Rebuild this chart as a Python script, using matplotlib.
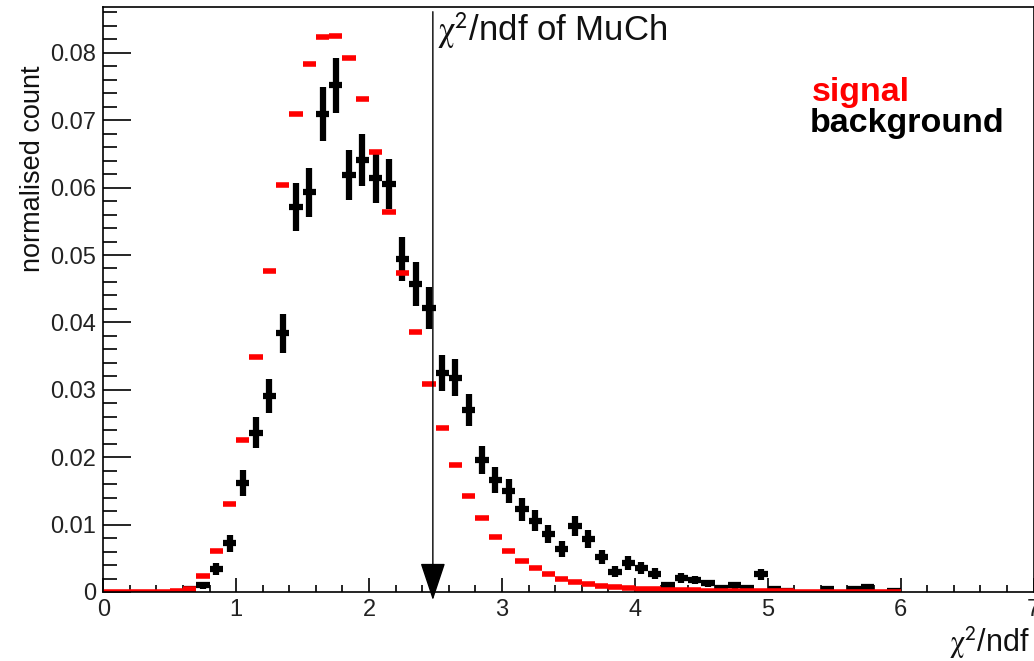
import matplotlib
matplotlib.use("Agg")
import matplotlib.pyplot as plt
import numpy as np

plt.rcParams['font.family'] = ['Liberation Sans', 'DejaVu Sans']
plt.rcParams['mathtext.fontset'] = 'stix'

# histogram binning: 60 bins of width 0.1 between 0 and 6
bin_width = 0.1
bin_centres = np.arange(60) * bin_width + bin_width / 2

signal = [
    0.00002, 0.00002, 0.00003, 0.00003, 0.00005, 0.0001, 0.0005, 0.0024, 0.0061, 0.0131,
    0.0226, 0.0349, 0.0476, 0.0604, 0.0709, 0.0783, 0.0823, 0.0825, 0.0792, 0.0731,
    0.0653, 0.0564, 0.0473, 0.0386, 0.0309, 0.0244, 0.0188, 0.0143, 0.0110, 0.0082,
    0.0061, 0.0046, 0.0036, 0.0026, 0.0020, 0.0015, 0.0012, 0.0009, 0.0007, 0.0006,
    0.0005, 0.0004, 0.0003, 0.0003, 0.00025, 0.0002, 0.0002, 0.00015, 0.00012, 0.0001,
    0.0001, 0.00008, 0.00007, 0.00006, 0.00005, 0.00005, 0.00004, 0.00004, 0.00003, 0.00003,
]

background = [
    0, 0, 0, 0, 0, 0, 0.0004, 0.0010, 0.0034, 0.0072,
    0.0162, 0.0236, 0.0291, 0.0384, 0.0571, 0.0593, 0.0709, 0.0752, 0.0619, 0.0641,
    0.0614, 0.0605, 0.0494, 0.0457, 0.0421, 0.0325, 0.0318, 0.0270, 0.0196, 0.0166,
    0.0150, 0.0123, 0.0106, 0.0086, 0.0064, 0.0098, 0.0079, 0.0052, 0.0030, 0.0043,
    0.0036, 0.0027, 0.0010, 0.0021, 0.0018, 0.0013, 0.0006, 0.0010, 0.0006, 0.0026,
    0.0005, 0.0002, 0, 0, 0.0004, 0, 0.0004, 0.0007, 0, 0.0002,
]

background_err = [
    0, 0, 0, 0, 0, 0, 0.0003, 0.0005, 0.0009, 0.0013,
    0.0019, 0.0023, 0.0025, 0.0029, 0.0036, 0.0036, 0.0040, 0.0041, 0.0037, 0.0038,
    0.0037, 0.0037, 0.0033, 0.0032, 0.0031, 0.0027, 0.0027, 0.0024, 0.0021, 0.0019,
    0.0018, 0.0017, 0.0015, 0.0014, 0.0012, 0.0015, 0.0013, 0.0011, 0.0008, 0.0010,
    0.0009, 0.0008, 0.0005, 0.0007, 0.0006, 0.0005, 0.0004, 0.0005, 0.0004, 0.0008,
    0.0003, 0.0002, 0, 0, 0.0003, 0, 0.0003, 0.0004, 0, 0.0002,
]

chi2_cut = 2.48

signal = np.array(signal)
background = np.array(background)
background_err = np.array(background_err)
filled = background > 0

W, H = 1034, 661
fig = plt.figure(figsize=(W / 100, H / 100), dpi=100)
ax = fig.add_axes([103.3 / W, 69 / H, (1033.5 - 103.3) / W, 585 / H])

ax.errorbar(bin_centres[filled], background[filled], xerr=bin_width / 2,
            yerr=background_err[filled], fmt='none', ecolor='black',
            elinewidth=4.5, capsize=0)
ax.errorbar(bin_centres, signal, xerr=bin_width / 2, fmt='none',
            ecolor='red', elinewidth=4.0, capsize=0)

ax.set_xlim(0, 7)
ax.set_ylim(0, 0.0868)
ax.set_xticks(np.arange(0, 8, 1))
ax.set_xticks(np.arange(0, 7.01, 0.2), minor=True)
ax.set_yticks(np.arange(0, 0.081, 0.01))
ax.set_yticks(np.arange(0, 0.0868, 0.002), minor=True)
ax.set_xticklabels([str(v) for v in range(8)])
ax.set_yticklabels(['0'] + ['%.2f' % v for v in np.arange(0.01, 0.081, 0.01)])
ax.tick_params(axis='both', which='both', direction='in', top=False, right=False,
               labelsize=17, colors='black', labelcolor='#222222', width=1.2)
ax.tick_params(axis='x', which='major', length=10, pad=5)
ax.tick_params(axis='x', which='minor', length=5)
ax.tick_params(axis='y', which='major', length=20, pad=5)
ax.tick_params(axis='y', which='minor', length=10)
for s in ax.spines.values():
    s.set_linewidth(1.2)

# cut position
ax.annotate('', xy=(chi2_cut, -0.0012), xytext=(chi2_cut, 0.0861),
            arrowprops=dict(arrowstyle='-|>,head_length=1.2,head_width=0.4',
                            mutation_scale=20, lw=1.0, color='black',
                            shrinkA=0, shrinkB=0),
            annotation_clip=False)
ax.text(chi2_cut + 0.03, 0.0818, r'$\mathrm{\chi}^{\mathsf{2}}$/ndf of MuCh',
        fontsize=25, ha='left', va='baseline', color='#111111')

fig.text(812 / W, 1 - 101 / H, 'signal', color='red', fontsize=24.5,
         fontweight='bold', ha='left', va='baseline')
fig.text(810 / W, 1 - 132 / H, 'background', color='black', fontsize=24.5,
         fontweight='bold', ha='left', va='baseline')

fig.text(1030 / W, 1 - 652 / H, r'$\mathrm{\chi}^{\mathsf{2}}$/ndf', fontsize=22,
         ha='right', va='baseline', color='#111111')
fig.text(33 / W, 1 - 66 / H, 'normalised count', fontsize=19.5, rotation=90,
         ha='center', va='top', color='#111111')

fig.savefig('out.png', dpi=100)
